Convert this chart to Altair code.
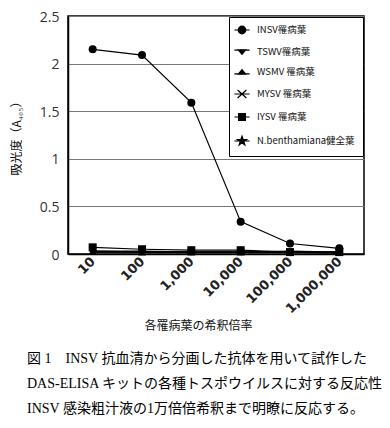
import altair as alt
import pandas as pd

dilutions = ["10", "100", "1,000", "10,000", "100,000", "1,000,000"]
series = ["INSV罹病葉", "TSWV罹病葉", "WSMV 罹病葉", "MYSV  罹病葉", "IYSV 罹病葉", "N.benthamiana健全葉"]
insv = [2.15, 2.09, 1.59, 0.34, 0.11, 0.06]
tswv = [0.03, 0.03, 0.02, 0.02, 0.02, 0.02]
wsmv = [0.03, 0.02, 0.02, 0.02, 0.03, 0.02]
mysv = [0.02, 0.02, 0.02, 0.02, 0.02, 0.02]
iysv = [0.07, 0.05, 0.04, 0.04, 0.02, 0.02]
nbent = [0.02, 0.02, 0.02, 0.02, 0.02, 0.01]
values = [insv, tswv, wsmv, mysv, iysv, nbent]

caption = [
    "図 1　INSV 抗血清から分画した抗体を用いて試作した",
    "DAS-ELISA キットの各種トスポウイルスに対する反応性",
    "INSV 感染粗汁液の1万倍倍希釈まで明瞭に反応する。",
]

rows = []
for s, vals in zip(series, values):
    for d, v in zip(dilutions, vals):
        rows.append({"series": s, "dilution": d, "value": v})
df = pd.DataFrame(rows)

star = "M0,-1L0.24,-0.31L0.95,-0.31L0.38,0.12L0.59,0.81L0,0.38L-0.59,0.81L-0.38,0.12L-0.95,-0.31L-0.24,-0.31Z"
xshape = "M-1,-1L1,1M-1,1L1,-1"
plain_shapes = ["circle", "triangle-down", "triangle-up", xshape, "square", star]

# legend symbols with a line through them
leg_shapes = [
    "M-1.9,0H1.9M0.95,0A0.95,0.95 0 1,1 -0.95,0A0.95,0.95 0 1,1 0.95,0Z",
    "M-1.9,-0.45H1.9M-0.95,-0.55L0.95,-0.55L0,0.6Z",
    "M-1.9,0.45H1.9M-0.95,0.55L0.95,0.55L0,-0.6Z",
    "M-1.9,0H1.9M-1.1,-1L1.1,1M-1.1,1L1.1,-1",
    "M-1.9,0H1.9M-0.85,-0.85H0.85V0.85H-0.85Z",
    "M-1.9,0H1.9M0,-1.2L0.29,-0.37L1.14,-0.37L0.46,0.14L0.71,0.97L0,0.46L-0.71,0.97L-0.46,0.14L-1.14,-0.37L-0.29,-0.37Z",
]

x = alt.X("dilution:N", sort=dilutions,
          scale=alt.Scale(type="point", padding=0.5),
          axis=alt.Axis(title="各罹病葉の希釈倍率", labelAngle=-45, labelAlign="right",
                        labelBaseline="middle", labelPadding=5, ticks=False,
                        labelFont="DejaVu Sans", labelFontWeight="bold", labelFontSize=13,
                        labelColor="#222", titleFont="Noto Sans CJK JP", titleFontSize=12,
                        titleFontWeight="normal", titleColor="#111", titleX=130, titleY=66,
                        domainColor="black", domainWidth=1.5, grid=False))
y = alt.Y("value:Q", scale=alt.Scale(domain=[0, 2.5], nice=False),
          axis=alt.Axis(title="吸光度（A₄₀₅）", values=[0, 0.5, 1, 1.5, 2, 2.5], format="~g",
                        ticks=False, labelPadding=9, labelFont="Open Sans", labelFontSize=14,
                        labelColor="#333", labelOffset=1, titleFont="Noto Sans CJK JP",
                        titleFontSize=12, titleFontWeight="normal", titleColor="#111",
                        titlePadding=16, domainColor="black", domainWidth=1.5,
                        gridColor="#777", gridWidth=1))

lines = alt.Chart(df).mark_line(color="black", strokeWidth=1.2).encode(
    x=x, y=y, detail="series:N")

points = alt.Chart(df).mark_point(filled=True, color="black", opacity=1, size=64).encode(
    x=x, y=y,
    shape=alt.Shape("series:N", sort=series,
                    scale=alt.Scale(domain=series, range=plain_shapes), legend=None))

legpts = alt.Chart(df).mark_point(filled=False, color="black", fill="black", strokeWidth=1.2,
                                  opacity=0, size=64).encode(
    x=x, y=y,
    shape=alt.Shape("series:N", sort=series,
                    scale=alt.Scale(domain=series, range=leg_shapes),
                    legend=alt.Legend(title=None, orient="top-right", offset=1,
                                      fillColor="white", strokeColor="black",
                                      padding=8, rowPadding=10, labelOffset=10,
                                      labelFont="Noto Sans CJK JP", labelFontSize=9.5,
                                      labelColor="#111", symbolOpacity=1, symbolSize=64,
                                      symbolStrokeWidth=1.2, labelLimit=200)))

chart = alt.layer(lines, points, legpts).resolve_scale(shape="independent").properties(
    width=296, height=238,
    autosize=alt.AutoSizeParams(type="none"),
    padding={"left": 60, "top": 8, "right": 18, "bottom": 172},
    title=alt.TitleParams(text=caption, orient="bottom", anchor="start", frame="group",
                          dx=-41, offset=21, font="Liberation Serif, Noto Sans CJK JP",
                          fontSize=14, fontWeight="normal", lineHeight=25, color="black"),
).configure_view(stroke="black", strokeWidth=1.5)

chart.save("out.html", embed_options={"renderer": "svg", "actions": False})
